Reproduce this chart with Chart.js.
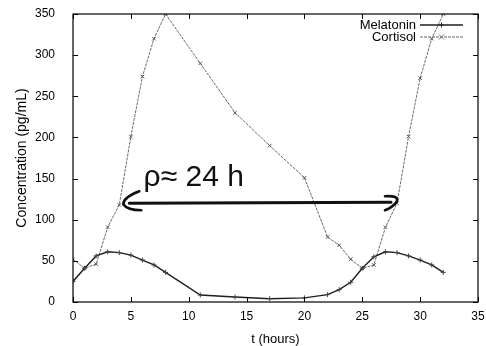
<!DOCTYPE html>
<html lang="en">
<head>
    <meta charset="UTF-8">
    <title>Melatonin and cortisol</title>
    <style>
        html, body { margin: 0; padding: 0; background: #fff; }
        #wrap { width: 486px; height: 346px; }
    </style>
</head>
<body>
    <div id="wrap"><canvas id="hormoneChart" width="486" height="346"></canvas></div>

    <script src="https://cdn.jsdelivr.net/npm/chart.js@4"></script>
    <script>
        // Values (t in hours, concentration in pg/mL)
        const tHours = [0, 1, 2, 3, 4, 5, 6, 7, 8, 11, 14, 17, 20, 22, 23, 24, 25, 26, 27, 28, 29, 30, 31, 32];
        const melatonin = [25, 41, 56, 61, 60, 57, 51, 45, 36, 8.5, 6, 4, 5, 9, 15, 24, 41, 55, 61, 60, 56, 51, 45, 36];
        const cortisol = [52, 41, 46, 91, 118, 201, 274, 320, 350, 290, 230, 190, 151, 79, 69, 52, 41, 45, 91, 120, 201, 272, 320, 350];
        const seriesNames = ['Melatonin', 'Cortisol'];
        const xTicks = [0, 5, 10, 15, 20, 25, 30, 35];
        const yTicks = [0, 50, 100, 150, 200, 250, 300, 350];

        // handwritten period annotation
        const periodLabel = 'ρ≈ 24 h';
        const periodFrom = 4;
        const periodTo = 28;
        const periodLevel = 120;
        const labelAt = [6.1, 141];

        const FONT = '"Liberation Sans", Arial, Helvetica, sans-serif';

        const toPoints = (ys) => tHours.map((t, i) => ({ x: t, y: ys[i] }));

        // box frame + inward ticks, gnuplot style
        const framePlugin = {
            id: 'frame',
            afterDraw(chart) {
                const { ctx, chartArea: a, scales: { x, y } } = chart;
                ctx.save();
                ctx.strokeStyle = '#000';
                ctx.lineWidth = 1.2;
                ctx.strokeRect(a.left, a.top, a.right - a.left, a.bottom - a.top);
                ctx.lineWidth = 1;
                ctx.beginPath();
                xTicks.forEach(v => {
                    const px = Math.round(x.getPixelForValue(v)) + 0.5;
                    ctx.moveTo(px, a.bottom); ctx.lineTo(px, a.bottom - 5);
                    ctx.moveTo(px, a.top); ctx.lineTo(px, a.top + 5);
                });
                yTicks.forEach(v => {
                    const py = Math.round(y.getPixelForValue(v)) + 0.5;
                    ctx.moveTo(a.left, py); ctx.lineTo(a.left + 5, py);
                    ctx.moveTo(a.right, py); ctx.lineTo(a.right - 5, py);
                });
                ctx.stroke();
                ctx.restore();
            }
        };

        // legend: text right-aligned, sample line to its right
        const keyPlugin = {
            id: 'key',
            afterDraw(chart) {
                const { ctx, chartArea: a } = chart;
                ctx.save();
                ctx.font = '13px ' + FONT;
                ctx.textAlign = 'right';
                ctx.textBaseline = 'middle';
                chart.data.datasets.forEach((ds, i) => {
                    const yy = a.top + 11 + i * 12;
                    const x0 = a.right - 58, x1 = a.right - 15;
                    ctx.fillStyle = '#000';
                    ctx.fillText(ds.label, x0 - 4, yy);
                    ctx.strokeStyle = ds.borderColor;
                    ctx.lineWidth = ds.borderWidth;
                    ctx.setLineDash(ds.borderDash || []);
                    ctx.beginPath();
                    ctx.moveTo(x0, yy); ctx.lineTo(x1, yy);
                    ctx.stroke();
                    ctx.setLineDash([]);
                    ctx.lineWidth = 1;
                    const mx = (x0 + x1) / 2, r = 2.5;
                    ctx.beginPath();
                    if (ds.pointStyle === 'cross') {
                        ctx.moveTo(mx - r, yy); ctx.lineTo(mx + r, yy);
                        ctx.moveTo(mx, yy - r); ctx.lineTo(mx, yy + r);
                    } else {
                        ctx.moveTo(mx - r, yy - r); ctx.lineTo(mx + r, yy + r);
                        ctx.moveTo(mx + r, yy - r); ctx.lineTo(mx - r, yy + r);
                    }
                    ctx.stroke();
                });
                ctx.restore();
            }
        };

        // the hand-drawn double arrow and "rho = 24 h"
        const periodPlugin = {
            id: 'period',
            afterDatasetsDraw(chart) {
                const { ctx, scales: { x, y } } = chart;
                const xa = x.getPixelForValue(periodFrom);
                const xb = x.getPixelForValue(periodTo);
                const yy = y.getPixelForValue(periodLevel);
                ctx.save();
                ctx.strokeStyle = '#111';
                ctx.lineCap = 'round';
                ctx.lineJoin = 'round';
                ctx.lineWidth = 3;
                ctx.beginPath();
                ctx.moveTo(xa + 10, yy);
                ctx.lineTo(xb - 6, yy - 1);
                ctx.stroke();
                // left head
                ctx.lineWidth = 2.6;
                ctx.beginPath();
                ctx.moveTo(xa + 20, yy - 12);
                ctx.quadraticCurveTo(xa + 4, yy - 6, xa + 4, yy + 1);
                ctx.quadraticCurveTo(xa + 8, yy + 7, xa + 22, yy + 7);
                ctx.stroke();
                // right head
                ctx.beginPath();
                ctx.moveTo(xb - 12, yy - 7);
                ctx.quadraticCurveTo(xb + 2, yy - 8, xb, yy - 2);
                ctx.quadraticCurveTo(xb - 4, yy + 4, xb - 12, yy + 7);
                ctx.stroke();
                // label
                ctx.fillStyle = '#111';
                ctx.font = '30px ' + FONT;
                ctx.textAlign = 'left';
                ctx.textBaseline = 'alphabetic';
                ctx.fillText(periodLabel, x.getPixelForValue(labelAt[0]), y.getPixelForValue(labelAt[1]));
                ctx.restore();
            }
        };

        const ctx = document.getElementById('hormoneChart').getContext('2d');
        const hormoneChart = new Chart(ctx, {
            type: 'line',
            data: {
                datasets: [{
                    label: seriesNames[0],
                    data: toPoints(melatonin),
                    borderColor: '#1e1e1e',
                    borderWidth: 1.4,
                    pointStyle: 'cross',
                    pointRadius: 2.5,
                    pointBorderWidth: 1,
                    pointBorderColor: '#444',
                    fill: false,
                    tension: 0
                }, {
                    label: seriesNames[1],
                    data: toPoints(cortisol),
                    borderColor: '#6a6a6a',
                    borderWidth: 1,
                    borderDash: [3, 1],
                    pointStyle: 'crossRot',
                    pointRadius: 2.5,
                    pointBorderWidth: 1,
                    pointBorderColor: '#555',
                    fill: false,
                    tension: 0
                }]
            },
            options: {
                responsive: false,
                animation: false,
                layout: { padding: { top: 14, right: 8, left: 0, bottom: 0 } },
                plugins: {
                    legend: { display: false },
                    tooltip: { enabled: false }
                },
                scales: {
                    x: {
                        type: 'linear',
                        min: 0,
                        max: 35,
                        afterBuildTicks: (s) => { s.ticks = xTicks.map(v => ({ value: v })); },
                        // pin the plot box to where it sits in the scan
                        afterFit: (s) => { s.height = 44; s.paddingLeft = 0; s.paddingRight = 0; },
                        grid: { drawOnChartArea: false, drawTicks: false },
                        border: { display: false },
                        ticks: { padding: 7, color: '#000', font: { family: FONT, size: 12 } },
                        title: {
                            display: true,
                            text: 't (hours)',
                            color: '#000',
                            font: { family: FONT, size: 13, lineHeight: 1 },
                            padding: { top: 0, bottom: 0 }
                        }
                    },
                    y: {
                        min: 0,
                        max: 350,
                        afterBuildTicks: (s) => { s.ticks = yTicks.map(v => ({ value: v })); },
                        afterFit: (s) => { s.width = 73; s.paddingTop = 0; s.paddingBottom = 0; },
                        grid: { drawOnChartArea: false, drawTicks: false },
                        border: { display: false },
                        ticks: { padding: 18, color: '#000', font: { family: FONT, size: 12 } },
                        title: {
                            display: true,
                            text: 'Concentration (pg/mL)',
                            color: '#000',
                            font: { family: FONT, size: 14, lineHeight: 1.2 },
                            padding: { top: 14, bottom: 0 }
                        }
                    }
                }
            },
            plugins: [framePlugin, keyPlugin, periodPlugin]
        });
    </script>
</body>
</html>
